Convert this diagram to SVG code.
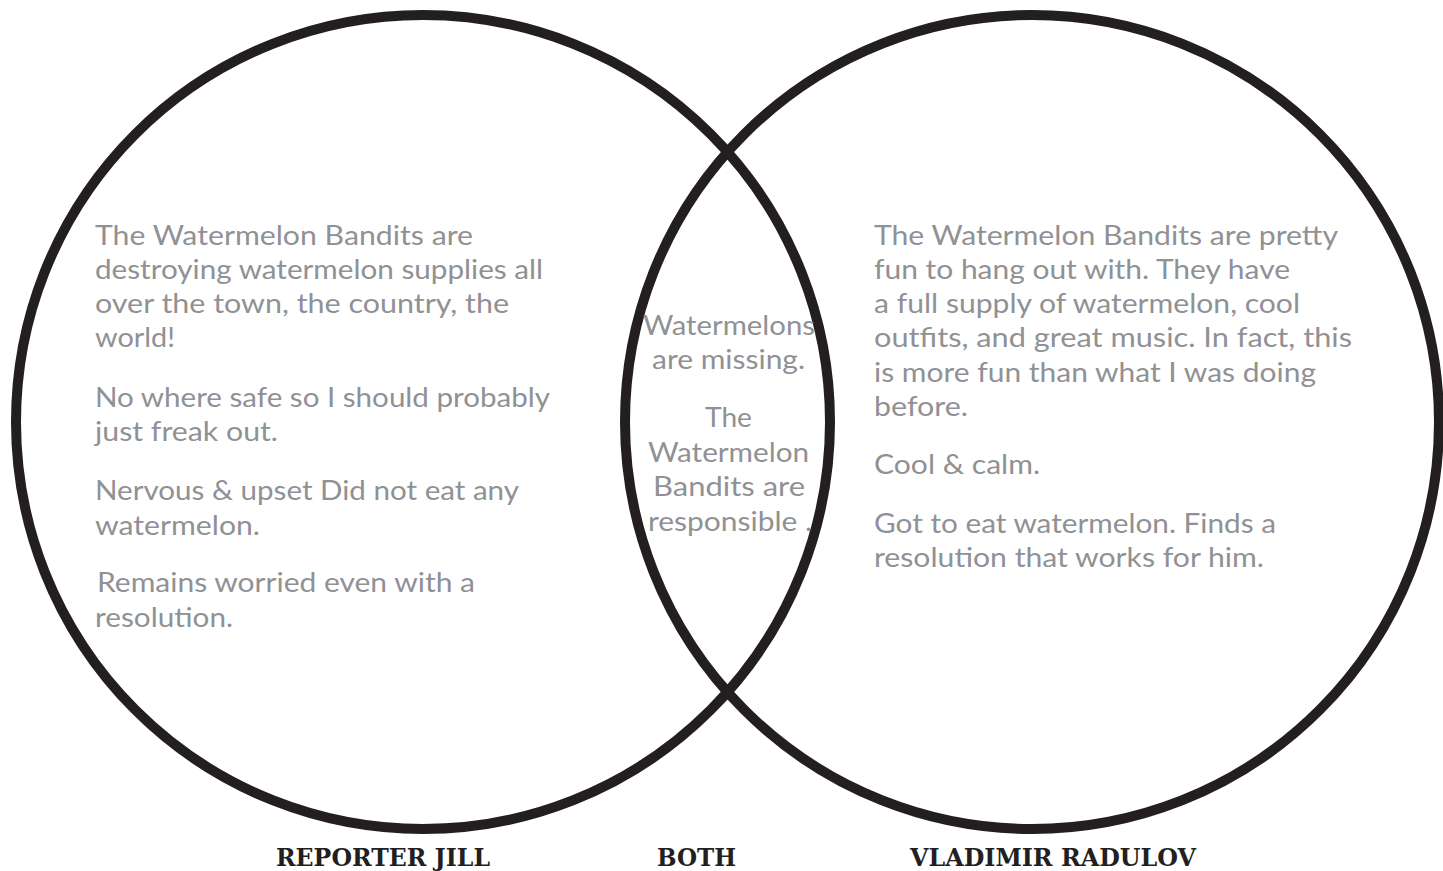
<svg xmlns="http://www.w3.org/2000/svg" width="1443" height="871" viewBox="0 0 1443 871">
<style>
.ring{fill:none;stroke:#231f20;stroke-width:10}
.t{font-family:Lato,"Noto Sans",sans-serif;font-size:27px;fill:#909194}
.lab{font-family:"DejaVu Serif","Liberation Serif",serif;font-weight:bold;font-size:25px;fill:#231f20}
</style>
<rect width="1443" height="871" fill="#ffffff"/>
<g id="connectors"></g>
<g id="circle-left">
<circle class="ring" cx="423" cy="422" r="407"/>
</g>
<g id="circle-right">
<circle class="ring" cx="1032" cy="422" r="407"/>
</g>
<g id="text-left">
<text class="t" x="95" y="245" textLength="378" lengthAdjust="spacingAndGlyphs">The Watermelon Bandits are</text>
<text class="t" x="95" y="279" textLength="448" lengthAdjust="spacingAndGlyphs">destroying watermelon supplies all</text>
<text class="t" x="95" y="313" textLength="414" lengthAdjust="spacingAndGlyphs">over the town, the country, the</text>
<text class="t" x="95" y="347" textLength="80" lengthAdjust="spacingAndGlyphs">world!</text>
<text class="t" x="95" y="407" textLength="455" lengthAdjust="spacingAndGlyphs">No where safe so I should probably</text>
<text class="t" x="95" y="441" textLength="183" lengthAdjust="spacingAndGlyphs">just freak out.</text>
<text class="t" x="95" y="500" textLength="424" lengthAdjust="spacingAndGlyphs">Nervous &amp; upset Did not eat any</text>
<text class="t" x="95" y="535" textLength="165" lengthAdjust="spacingAndGlyphs">watermelon.</text>
<text class="t" x="97" y="592" textLength="378" lengthAdjust="spacingAndGlyphs">Remains worried even with a</text>
<text class="t" x="95" y="627" textLength="138" lengthAdjust="spacingAndGlyphs">resolution.</text>
</g>
<g id="text-both">
<text class="t" x="643" y="335" textLength="172" lengthAdjust="spacingAndGlyphs">Watermelons</text>
<text class="t" x="652" y="369" textLength="153" lengthAdjust="spacingAndGlyphs">are missing.</text>
<text class="t" x="705" y="427" textLength="47" lengthAdjust="spacingAndGlyphs">The</text>
<text class="t" x="648" y="462" textLength="161" lengthAdjust="spacingAndGlyphs">Watermelon</text>
<text class="t" x="653" y="496" textLength="152" lengthAdjust="spacingAndGlyphs">Bandits are</text>
<text class="t" x="648" y="531" textLength="164" lengthAdjust="spacingAndGlyphs">responsible .</text>
</g>
<g id="text-right">
<text class="t" x="874" y="245" textLength="464" lengthAdjust="spacingAndGlyphs">The Watermelon Bandits are pretty</text>
<text class="t" x="874" y="279" textLength="416" lengthAdjust="spacingAndGlyphs">fun to hang out with. They have</text>
<text class="t" x="874" y="313" textLength="426" lengthAdjust="spacingAndGlyphs">a full supply of watermelon, cool</text>
<text class="t" x="874" y="347" textLength="478" lengthAdjust="spacingAndGlyphs">outfits, and great music. In fact, this</text>
<text class="t" x="874" y="382" textLength="442" lengthAdjust="spacingAndGlyphs">is more fun than what I was doing</text>
<text class="t" x="874" y="416" textLength="94" lengthAdjust="spacingAndGlyphs">before.</text>
<text class="t" x="874" y="474" textLength="166" lengthAdjust="spacingAndGlyphs">Cool &amp; calm.</text>
<text class="t" x="874" y="533" textLength="402" lengthAdjust="spacingAndGlyphs">Got to eat watermelon. Finds a</text>
<text class="t" x="874" y="567" textLength="390" lengthAdjust="spacingAndGlyphs">resolution that works for him.</text>
</g>
<g id="labels">
<text class="lab" x="276" y="866" textLength="214" lengthAdjust="spacingAndGlyphs">REPORTER JILL</text>
<text class="lab" x="657" y="866" textLength="79" lengthAdjust="spacingAndGlyphs">BOTH</text>
<text class="lab" x="910" y="866" textLength="286" lengthAdjust="spacingAndGlyphs">VLADIMIR RADULOV</text>
</g>
</svg>
